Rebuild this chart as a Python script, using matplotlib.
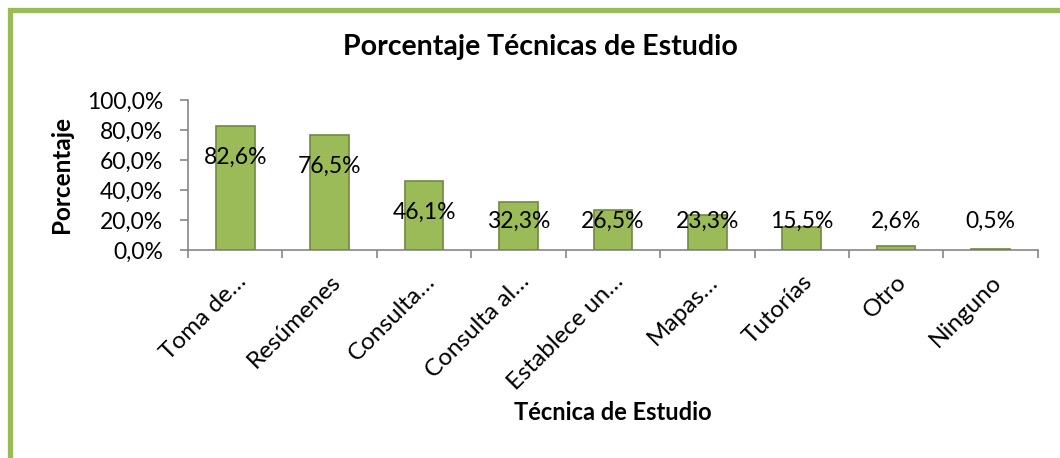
import numpy as np
import matplotlib
matplotlib.use("Agg")
import matplotlib.pyplot as plt
from matplotlib.lines import Line2D

plt.rcParams['font.family'] = ['Lato', 'DejaVu Sans']

categories = ["Toma de…", "Resúmenes", "Consulta…", "Consulta al…", "Establece un…",
              "Mapas…", "Tutorías", "Otro", "Ninguno"]
values = [82.6, 76.5, 46.1, 32.3, 26.5, 23.3, 15.5, 2.6, 0.5]
y_ticks = [0, 20, 40, 60, 80, 100]

fig = plt.figure(figsize=(10.6, 4.58), dpi=100)
ax = fig.add_axes([0.1774, 0.454, 0.8016, 0.3275])

x = np.arange(len(categories))
ax.bar(x, values, width=0.41, color="#9BBB59", edgecolor="#71893F", linewidth=1.2, zorder=3)

# data labels (Excel-style placement)
for xi, v in zip(x, values):
    ax.text(xi, max(v - 21, 19), f"{v:.1f}%".replace(".", ","), ha="center", va="center",
            fontsize=16.5, color="black", zorder=4)

ax.set_xlim(-0.5, len(categories) - 0.5)
ax.set_ylim(0, 100)
ax.set_yticks(y_ticks)
ax.set_yticklabels([f"{t:.1f}%".replace(".", ",") for t in y_ticks], fontsize=16.5)

ax.set_xticks(x)
ax.set_xticklabels(categories, rotation=45, ha="right", rotation_mode="anchor", fontsize=17.5)
ax.set_xticks(np.arange(-0.5, len(categories)), minor=True)
ax.tick_params(axis="x", which="major", length=0, pad=15)
ax.tick_params(axis="x", which="minor", length=6, color="#868686", width=1.2)
ax.tick_params(axis="y", length=6, color="#868686", width=1.2, pad=12)

for s in ["top", "right"]:
    ax.spines[s].set_visible(False)
for s in ["left", "bottom"]:
    ax.spines[s].set_color("#868686")
    ax.spines[s].set_linewidth(1.2)

fig.text(0.51, 0.897, "Porcentaje Técnicas de Estudio", ha="center", va="center",
         fontsize=20.5, fontweight="bold")
fig.text(0.578, 0.10, "Técnica de Estudio", ha="center", va="center",
         fontsize=17, fontweight="bold")
fig.text(0.058, 0.618, "Porcentaje", ha="center", va="center", rotation=90,
         fontsize=17.5, fontweight="bold")

# green frame on left and top edges
frame = Line2D([9.5 / 1060, 9.5 / 1060, 1.0], [0.0, 1 - 9.5 / 458, 1 - 9.5 / 458],
               transform=fig.transFigure, color="#9BBB59", linewidth=3.8,
               solid_joinstyle="miter")
fig.add_artist(frame)

fig.savefig("out.png", dpi=100)
